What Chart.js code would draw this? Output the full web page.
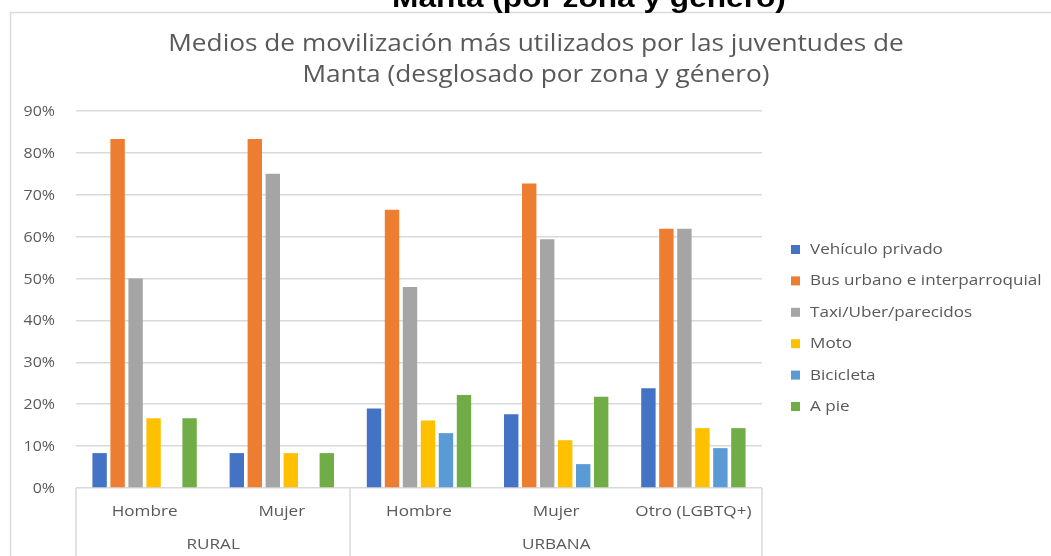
<!DOCTYPE html>
<html>
<head>
<meta charset="utf-8">
<script src="https://cdn.jsdelivr.net/npm/chart.js@4/dist/chart.umd.min.js"></script>
<style>
  html, body { margin: 0; padding: 0; background: #fff; overflow: hidden; }
  canvas { display: block; }
</style>
</head>
<body>
<canvas id="grafico" width="1051" height="556"></canvas>
<script>
// Datos (porcentajes)
const encabezado = 'Manta (por zona y género)'; // título cortado arriba
const titulo = ['Medios de movilización más utilizados por las juventudes de', 'Manta (desglosado por zona y género)'];
const categorias = ['Hombre', 'Mujer', 'Hombre', 'Mujer', 'Otro (LGBTQ+)']; // eje X nivel 1
const grupos = ['RURAL', 'URBANA']; // eje X nivel 2
const tamGrupos = [2, 3]; // cuántas categorías tiene cada grupo
const series = ['Vehículo privado', 'Bus urbano e interparroquial', 'Taxi/Uber/parecidos', 'Moto', 'Bicicleta', 'A pie'];
const vehiculo = [8.33, 8.33, 19.0, 17.6, 23.81];
const bus = [83.33, 83.33, 66.4, 72.7, 61.9];
const taxi = [50, 75, 48.0, 59.4, 61.9];
const moto = [16.67, 8.33, 16.1, 11.4, 14.29];
const bici = [0, 0, 13.1, 5.7, 9.52];
const pie = [16.67, 8.33, 22.2, 21.8, 14.29];
const cores = ['#4472C4', '#ED7D31', '#A5A5A5', '#FFC000', '#5B9BD5', '#70AD47'];
const ticksY = [0, 10, 20, 30, 40, 50, 60, 70, 80, 90];

const valores = [vehiculo, bus, taxi, moto, bici, pie];
const gris = '#595959';
const linea = '#d9d9d9';
const estirar = 1.14; // el original está estirado a lo ancho

// texto con escala horizontal
function texto(c, t, x, y, sx) {
  c.save();
  c.translate(x, y);
  c.scale(sx, 1);
  c.fillText(t, 0, 0);
  c.restore();
}

// Plugin para marco, títulos, ejes y leyenda
const decoracion = {
  id: 'decoracion',
  beforeDraw(chart) {
    const c = chart.ctx;
    c.save();
    c.fillStyle = '#fff';
    c.fillRect(0, 0, chart.width, chart.height);
    c.strokeStyle = linea;
    c.lineWidth = 1.5;
    c.strokeRect(10.5, 12.5, chart.width + 20, chart.height + 20);
    c.fillStyle = '#000';
    c.font = 'bold 28px "Liberation Sans", Arial';
    c.textAlign = 'center';
    c.textBaseline = 'alphabetic';
    texto(c, encabezado, 589, 7, 1.13);
    c.fillStyle = gris;
    c.font = '23px "Open Sans"';
    titulo.forEach((t, i) => texto(c, t, 536, 51 + i * 31, estirar));
    c.restore();
  },
  afterDraw(chart) {
    const c = chart.ctx;
    const x = chart.scales.x;
    const y = chart.scales.y;
    const area = chart.chartArea;
    const medio = (x.getPixelForValue(1) - x.getPixelForValue(0)) / 2;
    c.save();
    c.fillStyle = gris;
    c.textBaseline = 'alphabetic';
    // etiquetas eje Y
    c.textAlign = 'right';
    c.font = '14px "Open Sans"';
    ticksY.forEach(v => texto(c, v + '%', 55, y.getPixelForValue(v) + 5, estirar));
    // etiquetas eje X
    c.textAlign = 'center';
    c.font = '15px "Open Sans"';
    categorias.forEach((t, i) => texto(c, t, x.getPixelForValue(i), area.bottom + 28, estirar));
    // separadores y etiquetas de grupo
    c.strokeStyle = linea;
    c.lineWidth = 1.5;
    let inicio = 0;
    const bordes = [0];
    grupos.forEach((g, k) => {
      const fin = inicio + tamGrupos[k];
      const x0 = x.getPixelForValue(inicio) - medio;
      const x1 = x.getPixelForValue(fin - 1) + medio;
      texto(c, g, (x0 + x1) / 2, area.bottom + 61, estirar);
      bordes.push(fin);
      inicio = fin;
    });
    bordes.forEach(b => {
      const px = Math.round(x.getPixelForValue(b) - medio);
      c.beginPath();
      c.moveTo(px, area.bottom);
      c.lineTo(px, chart.height);
      c.stroke();
    });
    // leyenda
    c.textAlign = 'left';
    c.font = '15px "Open Sans"';
    chart.data.datasets.forEach((d, i) => {
      const yy = 254 + i * 31.4;
      c.fillStyle = d.backgroundColor;
      c.fillRect(791, yy - 9, 9, 9);
      c.fillStyle = gris;
      texto(c, d.label, 810, yy, estirar);
    });
    c.restore();
  }
};

const ctx = document.getElementById('grafico').getContext('2d');
new Chart(ctx, {
  type: 'bar',
  data: {
    labels: categorias,
    datasets: series.map((s, i) => ({
      label: s,
      data: valores[i],
      backgroundColor: cores[i],
      borderWidth: 0,
      categoryPercentage: 0.787,
      barPercentage: 0.8
    }))
  },
  options: {
    responsive: false,
    animation: false,
    layout: { padding: { left: 10, top: 111, right: 289, bottom: 0 } },
    plugins: {
      legend: { display: false },
      title: { display: false },
      tooltip: { enabled: false }
    },
    scales: {
      x: {
        grid: { display: false, drawTicks: false },
        border: { display: false },
        ticks: { display: false },
        afterFit: s => { s.height = 68; }
      },
      y: {
        min: 0,
        max: 90,
        afterBuildTicks: s => { s.ticks = ticksY.map(v => ({ value: v })); },
        grid: { color: linea, lineWidth: 1.5, drawTicks: false },
        border: { display: false },
        ticks: { display: false },
        afterFit: s => { s.width = 66; }
      }
    }
  },
  plugins: [decoracion]
});
</script>
</body>
</html>
